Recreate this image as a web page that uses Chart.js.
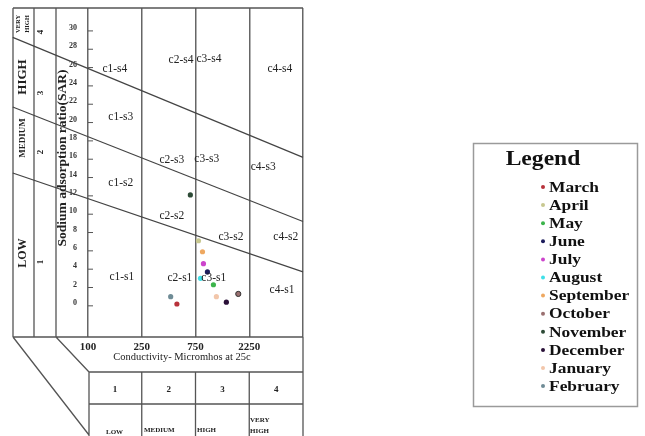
<!DOCTYPE html>
<html>
<head>
<meta charset="utf-8">
<script src="https://cdn.jsdelivr.net/npm/chart.js@4.4.1/dist/chart.umd.min.js"></script>
<style>
  html, body { margin: 0; padding: 0; background: #fff; }
  canvas { display: block; }
</style>
</head>
<body>
<canvas id="wilcoxChart" width="645" height="436"></canvas>
<script>
// sampling months and their marker colours
var months = ['March', 'April', 'May', 'June', 'July', 'August', 'September',
              'October', 'November', 'December', 'January', 'February'];
var monthColors = ['#b8323a', '#c8c890', '#3cb44b', '#1c1c5c', '#cc44cc', '#3fe0e8', '#eea860',
                   '#9a7070', '#2d4a36', '#2a1038', '#f2c6aa', '#6f8c96'];

// conductivity (micromhos at 25c) and sodium adsorption ratio per month
var ecValues  = [577, 833, 1250, 1083, 972, 889, 945, 1944, 702, 1611, 1333, 519];
var sarValues = [0.2, 7.1, 2.3, 3.7, 4.6, 3.0, 5.9, 1.3, 12.1, 0.4, 1.0, 1.0];

// salinity class breaks (equal width columns on the diagram)
var ecBreaks = [100, 250, 750, 2250, 5000];
var xTickLabels = ['100', '250', '750', '2250'];
var sarTicks = [0, 2, 4, 6, 8, 10, 12, 14, 16, 18, 20, 22, 24, 26, 28, 30];

// sodium hazard boundaries (SAR at the left frame and at the right edge)
var boundaryLeft  = [29.3, 21.7, 14.5];
var boundaryRight = [16.2, 9.2, 3.7];
var frameLeftX = -1.4;

function ecToClass(ec) {
    for (var i = 0; i < ecBreaks.length - 1; i++) {
        if (ec <= ecBreaks[i + 1]) {
            return i + (ec - ecBreaks[i]) / (ecBreaks[i + 1] - ecBreaks[i]);
        }
    }
    return ecBreaks.length - 1;
}

var datasets = [];
for (var b = 0; b < boundaryLeft.length; b++) {
    datasets.push({
        label: 'boundary' + b,
        data: [{ x: frameLeftX, y: boundaryLeft[b] }, { x: 4, y: boundaryRight[b] }],
        showLine: true,
        borderColor: '#444',
        borderWidth: 1.2,
        pointRadius: 0,
        clip: false,
        isMonth: false
    });
}
for (var i = 0; i < months.length; i++) {
    datasets.push({
        label: months[i],
        data: [{ x: ecToClass(ecValues[i]), y: sarValues[i] }],
        backgroundColor: monthColors[i],
        borderColor: months[i] === 'October' ? '#333' : monthColors[i],
        borderWidth: months[i] === 'October' ? 1 : 0,
        pointRadius: 2.6,
        isMonth: true
    });
}

var zoneLabels = [
    ['c1-s4', 0.50, 25.9], ['c1-s3', 0.61, 20.6], ['c1-s2', 0.61, 13.4], ['c1-s1', 0.63, 3.2],
    ['c2-s4', 1.73, 26.8], ['c2-s3', 1.56, 15.9], ['c2-s2', 1.56, 9.8], ['c2-s1', 1.71, 3.0],
    ['c3-s4', 2.25, 26.9], ['c3-s3', 2.21, 16.0], ['c3-s2', 2.66, 7.5], ['c3-s1', 2.34, 3.0],
    ['c4-s4', 3.57, 25.9], ['c4-s3', 3.26, 15.1], ['c4-s2', 3.68, 7.5], ['c4-s1', 3.61, 1.7]
];

function vText(ctx, s, x, y, font) {
    ctx.save();
    ctx.translate(x, y);
    ctx.rotate(-Math.PI / 2);
    ctx.font = font;
    ctx.textAlign = 'center';
    ctx.textBaseline = 'middle';
    ctx.fillText(s, 0, 0);
    ctx.restore();
}

var serif = "'Liberation Serif', 'Times New Roman', serif";

var decor = {
    id: 'decor',
    beforeDatasetsDraw: function (chart) {
        var ctx = chart.ctx, a = chart.chartArea;
        var xs = chart.scales.x, ys = chart.scales.y;
        var c0 = 13, c1 = 34, c2 = 56;
        ctx.save();
        ctx.strokeStyle = '#555';
        ctx.lineWidth = 1.3;
        ctx.beginPath();
        // outer frame and left columns
        ctx.moveTo(c0, a.top); ctx.lineTo(a.right, a.top);
        ctx.moveTo(c0, a.bottom); ctx.lineTo(a.right, a.bottom);
        [c0, c1, c2].forEach(function (x) { ctx.moveTo(x, a.top); ctx.lineTo(x, a.bottom); });
        // right edge runs down through the class table
        ctx.moveTo(a.right, a.bottom); ctx.lineTo(a.right, chart.height);
        // perspective lines to the table
        ctx.moveTo(c0, a.bottom); ctx.lineTo(a.left + 1, chart.height - 1);
        ctx.moveTo(c2, a.bottom); ctx.lineTo(a.left + 1, a.bottom + 35);
        // class table
        var tTop = a.bottom + 35, tMid = a.bottom + 67;
        ctx.moveTo(a.left + 1, tTop); ctx.lineTo(a.right, tTop);
        ctx.moveTo(a.left + 1, tMid); ctx.lineTo(a.right, tMid);
        for (var k = 0; k < 4; k++) {
            var px = xs.getPixelForValue(k) + (k === 0 ? 1 : 0);
            ctx.moveTo(px, tTop); ctx.lineTo(px, chart.height);
        }
        ctx.stroke();
        // y tick marks drawn inward
        ctx.lineWidth = 1;
        ctx.beginPath();
        sarTicks.forEach(function (v) {
            var py = ys.getPixelForValue(v);
            ctx.moveTo(a.left, py); ctx.lineTo(a.left + 5, py);
        });
        ctx.stroke();
        ctx.restore();
    },
    afterDraw: function (chart) {
        var ctx = chart.ctx, a = chart.chartArea;
        var xs = chart.scales.x, ys = chart.scales.y;
        ctx.save();
        ctx.fillStyle = '#222';

        // hazard columns
        vText(ctx, 'VERY', 18, 24, 'bold 6.5px ' + serif);
        vText(ctx, 'HIGH', 27, 24, 'bold 6.5px ' + serif);
        vText(ctx, 'HIGH', 23, 77, 'bold 13px ' + serif);
        vText(ctx, 'MEDIUM', 23, 138, 'bold 9px ' + serif);
        vText(ctx, 'LOW', 23, 253, 'bold 12px ' + serif);
        vText(ctx, '4', 41, 32, 'bold 9px ' + serif);
        vText(ctx, '3', 41, 93, 'bold 9px ' + serif);
        vText(ctx, '2', 41, 152, 'bold 9px ' + serif);
        vText(ctx, '1', 41, 262, 'bold 9px ' + serif);
        vText(ctx, 'Sodium adsorption ratio(SAR)', 63, 158, 'bold 13.5px ' + serif);

        // zone labels
        ctx.font = '11.5px ' + serif;
        ctx.textAlign = 'center';
        ctx.textBaseline = 'middle';
        zoneLabels.forEach(function (z) {
            ctx.fillText(z[0], xs.getPixelForValue(z[1]), ys.getPixelForValue(z[2]));
        });

        // x axis title
        ctx.font = '10.5px ' + serif;
        ctx.fillText('Conductivity- Micromhos at 25c', 182, a.bottom + 20);

        // class table text
        var tTop = a.bottom + 35;
        ctx.font = 'bold 9px ' + serif;
        for (var k = 0; k < 4; k++) {
            var mid = (xs.getPixelForValue(k) + xs.getPixelForValue(k + 1)) / 2;
            ctx.fillText(String(k + 1), mid, tTop + 18);
        }
        ctx.font = 'bold 7px ' + serif;
        ctx.textAlign = 'left';
        ctx.fillText('LOW', 106, 432);
        ctx.fillText('MEDIUM', 144, 430);
        ctx.fillText('HIGH', 197, 430);
        ctx.fillText('VERY', 250, 420);
        ctx.fillText('HIGH', 250, 431);

        // legend box
        ctx.strokeStyle = '#9a9a9a';
        ctx.lineWidth = 1.5;
        ctx.strokeRect(473.5, 143.5, 164, 263);
        ctx.fillStyle = '#111';
        ctx.save();
        ctx.translate(543, 160);
        ctx.scale(1.18, 1);
        ctx.font = 'bold 20px ' + serif;
        ctx.textAlign = 'center';
        ctx.fillText('Legend', 0, 0);
        ctx.restore();

        var items = chart.data.datasets.filter(function (d) { return d.isMonth; });
        items.forEach(function (d, i) {
            var y = 187 + i * 18.1;
            ctx.beginPath();
            ctx.fillStyle = d.backgroundColor;
            ctx.arc(543, y, 2, 0, Math.PI * 2);
            ctx.fill();
            ctx.save();
            ctx.translate(549, y);
            ctx.scale(1.2, 1);
            ctx.fillStyle = '#111';
            ctx.font = 'bold 14.5px ' + serif;
            ctx.textAlign = 'left';
            ctx.textBaseline = 'middle';
            ctx.fillText(d.label, 0, 1);
            ctx.restore();
        });
        ctx.restore();
    }
};

new Chart(document.getElementById('wilcoxChart').getContext('2d'), {
    type: 'scatter',
    data: { datasets: datasets },
    options: {
        responsive: false,
        animation: false,
        events: [],
        layout: { padding: { left: 68, top: 8, right: 342, bottom: 79 } },
        plugins: { legend: { display: false }, tooltip: { enabled: false } },
        scales: {
            x: {
                type: 'linear',
                min: 0,
                max: 4,
                afterFit: function (s) { s.height = 20; },
                afterBuildTicks: function (s) { s.ticks = [0, 1, 2, 3, 4].map(function (v) { return { value: v }; }); },
                grid: { color: '#666', lineWidth: 1.5, drawTicks: false },
                border: { display: false },
                ticks: {
                    padding: 4,
                    maxRotation: 0,
                    color: '#222',
                    font: { family: serif, size: 11, weight: 'bold' },
                    callback: function (v) { return xTickLabels[v] || ''; }
                }
            },
            y: {
                type: 'linear',
                min: -3.4,
                max: 32.5,
                afterFit: function (s) { s.width = 20; },
                afterBuildTicks: function (s) { s.ticks = sarTicks.map(function (v) { return { value: v }; }); },
                grid: { display: false },
                border: { display: false },
                ticks: {
                    padding: 3,
                    labelOffset: -3,
                    color: '#333',
                    font: { family: serif, size: 8, weight: 'bold' }
                }
            }
        }
    },
    plugins: [decor]
});
</script>
</body>
</html>
